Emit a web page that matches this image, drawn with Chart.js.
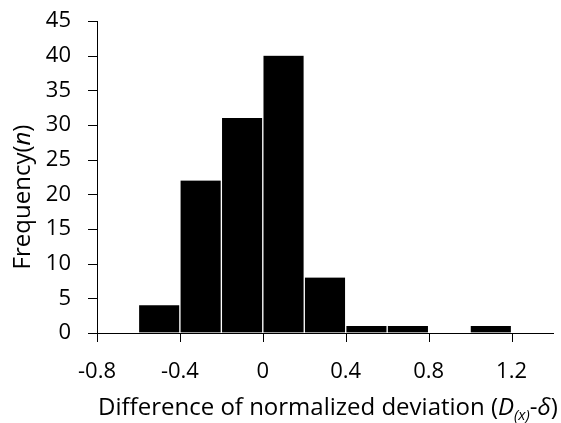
<!DOCTYPE html>
<html>
<head>
<meta charset="utf-8">
<script src="https://cdn.jsdelivr.net/npm/chart.js@4/dist/chart.umd.min.js"></script>
<style>
  html, body { margin: 0; padding: 0; background: #fff; }
  #wrap { width: 561px; height: 423px; }
</style>
</head>
<body>
<div id="wrap"><canvas id="histChart" width="561" height="423"></canvas></div>
<script>
// histogram data (bin width 0.2)
var binStarts = [-0.6, -0.4, -0.2, 0, 0.2, 0.4, 0.6, 0.8, 1.0];
var counts = [4, 22, 31, 40, 8, 1, 1, 0, 1];
var binWidth = 0.2;

// axis tick labels
var xTicks = [-0.8, -0.4, 0, 0.4, 0.8, 1.2];
var yTicks = [0, 5, 10, 15, 20, 25, 30, 35, 40, 45];

var FONT = '"Open Sans", sans-serif';
var TICK_LEN = 9;

var points = binStarts.map(function(s, i) {
    return { x: s + binWidth / 2, y: counts[i] };
});

// tick marks + axis titles (titles have italic parts)
var axisExtras = {
    id: 'axisExtras',
    afterDraw: function(chart) {
        var ctx = chart.ctx;
        var area = chart.chartArea;
        var xs = chart.scales.x, ys = chart.scales.y;

        ctx.save();
        ctx.strokeStyle = '#000';
        ctx.lineWidth = 1;
        ctx.beginPath();
        xTicks.forEach(function(v) {
            var px = Math.round(xs.getPixelForValue(v)) + 0.5;
            ctx.moveTo(px, area.bottom);
            ctx.lineTo(px, area.bottom + TICK_LEN);
        });
        yTicks.forEach(function(v) {
            var py = Math.round(ys.getPixelForValue(v)) + 0.5;
            ctx.moveTo(area.left - TICK_LEN, py);
            ctx.lineTo(area.left, py);
        });
        ctx.stroke();

        function drawParts(parts, cx, baseY) {
            var total = 0;
            parts.forEach(function(p) {
                ctx.font = p.font;
                p.w = ctx.measureText(p.t).width;
                total += p.w;
            });
            var x = cx - total / 2;
            parts.forEach(function(p) {
                ctx.font = p.font;
                ctx.fillText(p.t, x, baseY + (p.dy || 0));
                x += p.w;
            });
        }

        ctx.fillStyle = '#000';
        ctx.textBaseline = 'alphabetic';
        ctx.textAlign = 'left';

        var n = '24px ' + FONT;
        var it = 'italic 24px ' + FONT;
        drawParts([
            { t: 'Difference of normalized deviation (', font: n },
            { t: 'D', font: it },
            { t: '(x)', font: 'italic 15px ' + FONT, dy: 5 },
            { t: '-', font: n },
            { t: 'δ', font: it },
            { t: ')', font: n }
        ], (area.left + area.right) / 2 + 3, 415);

        ctx.translate(30, 197);
        ctx.rotate(-Math.PI / 2);
        drawParts([
            { t: 'Frequency(', font: n },
            { t: 'n', font: it },
            { t: ')', font: n }
        ], 0, 0);
        ctx.restore();
    }
};

var ctx = document.getElementById('histChart').getContext('2d');
var histChart = new Chart(ctx, {
    type: 'bar',
    data: {
        datasets: [{
            data: points,
            backgroundColor: '#000',
            borderColor: '#fff',
            borderWidth: { left: 1, right: 1, top: 0, bottom: 0 },
            borderSkipped: false,
            barPercentage: 1,
            categoryPercentage: 1
        }]
    },
    options: {
        responsive: false,
        animation: false,
        layout: { padding: { top: 21, right: 8, left: 0, bottom: 0 } },
        plugins: {
            legend: { display: false },
            tooltip: { enabled: false }
        },
        scales: {
            x: {
                type: 'linear',
                min: -0.8,
                max: 1.4,
                offset: false,
                afterBuildTicks: function(scale) {
                    scale.ticks = xTicks.map(function(v) { return { value: v }; });
                },
                afterFit: function(scale) {
                    scale.height = 90;
                    scale.paddingLeft = 0;
                    scale.paddingRight = 0;
                },
                ticks: {
                    color: '#000',
                    font: { family: FONT, size: 22 },
                    padding: 17,
                    maxRotation: 0,
                    autoSkip: false,
                    callback: function(v) { return String(Math.round(v * 10) / 10); }
                },
                grid: { offset: false, drawOnChartArea: false, drawTicks: true, tickLength: TICK_LEN, tickColor: 'rgba(0,0,0,0)' },
                border: { color: '#000', width: 1 }
            },
            y: {
                min: 0,
                max: 45,
                afterBuildTicks: function(scale) {
                    scale.ticks = yTicks.map(function(v) { return { value: v }; });
                },
                afterFit: function(scale) {
                    scale.width = 97;
                    scale.paddingTop = 0;
                    scale.paddingBottom = 0;
                },
                ticks: {
                    color: '#000',
                    font: { family: FONT, size: 22 },
                    padding: 17,
                    autoSkip: false
                },
                grid: { drawOnChartArea: false, drawTicks: true, tickLength: TICK_LEN, tickColor: 'rgba(0,0,0,0)' },
                border: { color: '#000', width: 1 }
            }
        }
    },
    plugins: [axisExtras]
});
</script>
</body>
</html>
